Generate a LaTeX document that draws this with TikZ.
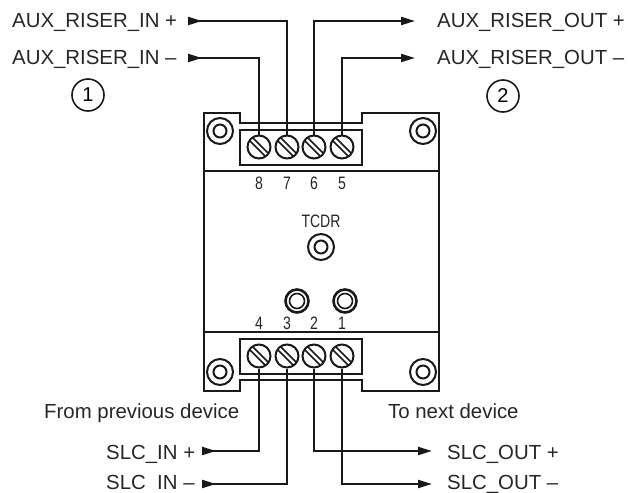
\documentclass[tikz,border=0pt]{standalone}
\usepackage{fontspec}
\setmainfont{Liberation Sans}
\usetikzlibrary{arrows.meta,calc}
\tikzset{
	wire/.style = {line width=2.1pt, black!90},
	wirein/.style = {wire, {Triangle[reversed,length=14pt,width=8pt]}-},
	wireout/.style = {wire, -{Triangle[length=14pt,width=8pt]}},
	body/.style = {line width=2pt, black!90},
	screw/.style = {circle, draw=black!90, line width=2pt, minimum size=23pt, inner sep=0pt, fill=white},
	slot/.style = {line width=1.5pt, black!90},
	lbl/.style = {font=\fontsize{20.4}{22}\selectfont, text=black!85, inner sep=0pt, anchor=base west},
	num/.style = {font=\fontsize{18}{20}\selectfont, text=black!85, inner sep=0pt, xscale=0.78},
	ringouter/.style = {circle, draw=black!90, line width=2pt, minimum size=26pt, inner sep=0pt},
	ringinner/.style = {circle, draw=black!90, line width=2pt, minimum size=13pt, inner sep=0pt},
	btnouter/.style = {circle, draw=black!90, line width=2.6pt, minimum size=23pt, inner sep=0pt},
	btninner/.style = {circle, draw=black!90, line width=1.6pt, minimum size=15pt, inner sep=0pt},
	callout/.style = {circle, draw=black!90, line width=1.6pt, minimum size=32pt, inner sep=0pt, font=\fontsize{20}{22}\selectfont},
}
\newcommand{\screwslot}[1]{
	\draw[slot] ($(#1)+(-9.5,-6.5)$) -- ($(#1)+(6.5,9.5)$);
	\draw[slot] ($(#1)+(-6.5,-9.5)$) -- ($(#1)+(9.5,6.5)$);
}

\begin{document}
\begin{tikzpicture}[x=1pt,y=-1pt]
	\useasboundingbox (0,0) rectangle (630,493);

	% housing
	\draw[body] (204,171) -- (204,113) -- (240,113) -- (240,123) -- (362,123) -- (362,113) -- (439,113) -- (439,171);
	\draw[body] (204,171) -- (439,171);
	\draw[body] (204,171) -- (204,391) -- (240,391) -- (240,380) -- (362,380) -- (362,391) -- (439,391) -- (439,171);
	\draw[body] (204,332) -- (439,332);
	\draw[body] (240,130) rectangle (362,165);
	\draw[body] (240,339) rectangle (362,374);

	% mounting holes
	\foreach \name/\x/\y in {tl/220/131, tr/423/131, bl/220/372, br/423/372} {
		\node[ringouter] (out\name) at (\x,\y) {};
		\node[ringinner] (in\name) at (\x,\y) {};
	}

	% indicators
	\node[ringouter] (tcdr) at (321,247) {};
	\node[ringinner] (tcdrin) at (321,247) {};
	\node[num] (tcdrlabel) at (321,221) {TCDR};
	\node[btnouter] (led1) at (297,301) {};
	\node[btninner] (led1in) at (297,301) {};
	\node[btnouter] (led2) at (345,301) {};
	\node[btninner] (led2in) at (345,301) {};

	% terminals
	\foreach \n/\x in {8/259, 7/287, 6/314, 5/342} {
		\node[screw] (s\n) at (\x,147) {};
		\screwslot{s\n}
		\node[num] (n\n) at (\x,183) {\n};
	}
	\foreach \n/\x in {4/259, 3/287, 2/314, 1/342} {
		\node[screw] (s\n) at (\x,356) {};
		\screwslot{s\n}
		\node[num] (n\n) at (\x,323) {\n};
	}

	% wire ends
	\coordinate (a7) at (188,21);
	\coordinate (a8) at (188,58);
	\coordinate (a6) at (415,21);
	\coordinate (a5) at (415,58);
	\coordinate (a4) at (202,451);
	\coordinate (a3) at (202,484);
	\coordinate (a2) at (432,451);
	\coordinate (a1) at (432,484);

	% wires
	\draw[wirein] (a7) -| (s7.north);
	\draw[wirein] (a8) -| (s8.north);
	\draw[wireout] (s6.north) |- (a6);
	\draw[wireout] (s5.north) |- (a5);
	\draw[wirein] (a4) -| (s4.south);
	\draw[wirein] (a3) -| (s3.south);
	\draw[wireout] (s2.south) |- (a2);
	\draw[wireout] (s1.south) |- (a1);

	% labels
	\node[lbl] (auxinp) at (12,27) {AUX\_RISER\_IN +};
	\node[lbl] (auxinm) at (12,64) {AUX\_RISER\_IN –};
	\node[lbl] (auxoutp) at (437,27) {AUX\_RISER\_OUT +};
	\node[lbl] (auxoutm) at (437,64) {AUX\_RISER\_OUT –};
	\node[callout] (c1) at (88,95) {1};
	\node[callout] (c2) at (503,96) {2};
	\node[lbl] (prev) at (44,418) {From previous device};
	\node[lbl] (next) at (388,418) {To next device};
	\node[lbl] (slcinp) at (106,459) {SLC\_IN +};
	\node[lbl] (slcinm) at (106,489) {SLC\ \ IN –};
	\node[lbl] (slcoutp) at (447,459) {SLC\_OUT +};
	\node[lbl] (slcoutm) at (447,489) {SLC\_OUT –};
\end{tikzpicture}
\end{document}
